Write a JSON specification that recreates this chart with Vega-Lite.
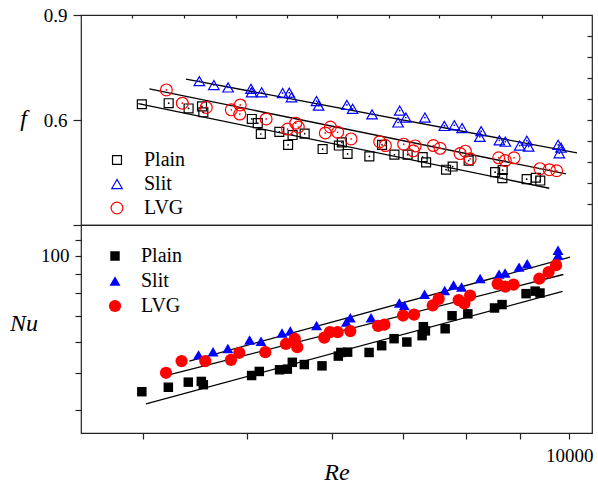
{
  "$schema": "https://vega.github.io/schema/vega-lite/v6.json",
  "padding": {"left": 8, "top": 5, "right": 5, "bottom": 5},
  "background": "white",
  "spacing": 0,
  "bounds": "flush",
  "config": {
    "font": "Liberation Serif",
    "view": {"stroke": "#222", "strokeWidth": 1.2},
    "axis": {
      "labelFont": "Liberation Serif", "labelFontSize": 19, "labelColor": "black",
      "titleFont": "Liberation Serif", "titleFontSize": 24, "titleFontStyle": "italic",
      "titleFontWeight": "normal", "titleColor": "black", "grid": false, "domain": false,
      "tickColor": "#222", "tickWidth": 1.2, "labelFlush": false, "labelOverlap": false
    },
    "legend": {
      "labelFont": "Liberation Serif", "labelFontSize": 20, "labelColor": "black",
      "rowPadding": 5, "padding": 0, "symbolStrokeWidth": 1.2
    }
  },
  "resolve": {
    "scale": {"color": "independent", "shape": "independent", "size": "independent"},
    "legend": {"color": "independent", "shape": "independent", "size": "independent"}
  },
  "datasets": {
    "fpts": [
      {"s": "Plain", "Re": 3989, "f": 0.645}, {"s": "Plain", "Re": 4226, "f": 0.648},
      {"s": "Plain", "Re": 4411, "f": 0.633}, {"s": "Plain", "Re": 4540, "f": 0.639},
      {"s": "Plain", "Re": 4553, "f": 0.622}, {"s": "Plain", "Re": 5053, "f": 0.603},
      {"s": "Plain", "Re": 5118, "f": 0.591}, {"s": "Plain", "Re": 5152, "f": 0.560},
      {"s": "Plain", "Re": 5361, "f": 0.566}, {"s": "Plain", "Re": 5463, "f": 0.529},
      {"s": "Plain", "Re": 5516, "f": 0.557}, {"s": "Plain", "Re": 5661, "f": 0.561},
      {"s": "Plain", "Re": 5884, "f": 0.517}, {"s": "Plain", "Re": 6093, "f": 0.527},
      {"s": "Plain", "Re": 6132, "f": 0.536}, {"s": "Plain", "Re": 6208, "f": 0.503},
      {"s": "Plain", "Re": 6506, "f": 0.496}, {"s": "Plain", "Re": 6686, "f": 0.529},
      {"s": "Plain", "Re": 6866, "f": 0.501}, {"s": "Plain", "Re": 7064, "f": 0.501},
      {"s": "Plain", "Re": 7296, "f": 0.494}, {"s": "Plain", "Re": 7350, "f": 0.479},
      {"s": "Plain", "Re": 7672, "f": 0.458}, {"s": "Plain", "Re": 7782, "f": 0.467},
      {"s": "Plain", "Re": 8054, "f": 0.484}, {"s": "Plain", "Re": 8526, "f": 0.451},
      {"s": "Plain", "Re": 8665, "f": 0.457}, {"s": "Plain", "Re": 8659, "f": 0.434},
      {"s": "Plain", "Re": 9124, "f": 0.431}, {"s": "Plain", "Re": 9306, "f": 0.435},
      {"s": "Plain", "Re": 9395, "f": 0.427},
      {"s": "Slit", "Re": 4514, "f": 0.711}, {"s": "Slit", "Re": 4657, "f": 0.700},
      {"s": "Slit", "Re": 4802, "f": 0.693}, {"s": "Slit", "Re": 5044, "f": 0.689},
      {"s": "Slit", "Re": 5051, "f": 0.679}, {"s": "Slit", "Re": 5161, "f": 0.679},
      {"s": "Slit", "Re": 5399, "f": 0.677}, {"s": "Slit", "Re": 5477, "f": 0.678},
      {"s": "Slit", "Re": 5503, "f": 0.665}, {"s": "Slit", "Re": 5807, "f": 0.654},
      {"s": "Slit", "Re": 5833, "f": 0.641}, {"s": "Slit", "Re": 6199, "f": 0.643},
      {"s": "Slit", "Re": 6276, "f": 0.632}, {"s": "Slit", "Re": 6544, "f": 0.616},
      {"s": "Slit", "Re": 6944, "f": 0.627}, {"s": "Slit", "Re": 7037, "f": 0.607},
      {"s": "Slit", "Re": 6920, "f": 0.593}, {"s": "Slit", "Re": 7331, "f": 0.607},
      {"s": "Slit", "Re": 7644, "f": 0.583}, {"s": "Slit", "Re": 7810, "f": 0.585},
      {"s": "Slit", "Re": 7941, "f": 0.577}, {"s": "Slit", "Re": 8274, "f": 0.568},
      {"s": "Slit", "Re": 8250, "f": 0.552}, {"s": "Slit", "Re": 8604, "f": 0.542},
      {"s": "Slit", "Re": 8715, "f": 0.538}, {"s": "Slit", "Re": 8988, "f": 0.527},
      {"s": "Slit", "Re": 9128, "f": 0.541}, {"s": "Slit", "Re": 9163, "f": 0.524},
      {"s": "Slit", "Re": 9762, "f": 0.529}, {"s": "Slit", "Re": 9823, "f": 0.521},
      {"s": "Slit", "Re": 9787, "f": 0.505},
      {"s": "LVG", "Re": 4205, "f": 0.686}, {"s": "LVG", "Re": 4352, "f": 0.648},
      {"s": "LVG", "Re": 4582, "f": 0.636}, {"s": "LVG", "Re": 4835, "f": 0.629},
      {"s": "LVG", "Re": 4929, "f": 0.643}, {"s": "LVG", "Re": 4924, "f": 0.617},
      {"s": "LVG", "Re": 5211, "f": 0.603}, {"s": "LVG", "Re": 5457, "f": 0.574},
      {"s": "LVG", "Re": 5554, "f": 0.591}, {"s": "LVG", "Re": 5584, "f": 0.580},
      {"s": "LVG", "Re": 5918, "f": 0.563}, {"s": "LVG", "Re": 5983, "f": 0.580},
      {"s": "LVG", "Re": 6077, "f": 0.565}, {"s": "LVG", "Re": 6255, "f": 0.546},
      {"s": "LVG", "Re": 6652, "f": 0.538}, {"s": "LVG", "Re": 6734, "f": 0.527},
      {"s": "LVG", "Re": 7004, "f": 0.531}, {"s": "LVG", "Re": 7179, "f": 0.526},
      {"s": "LVG", "Re": 7151, "f": 0.512}, {"s": "LVG", "Re": 7466, "f": 0.527},
      {"s": "LVG", "Re": 7574, "f": 0.519}, {"s": "LVG", "Re": 7907, "f": 0.504},
      {"s": "LVG", "Re": 7997, "f": 0.511}, {"s": "LVG", "Re": 8080, "f": 0.489},
      {"s": "LVG", "Re": 8591, "f": 0.492}, {"s": "LVG", "Re": 8715, "f": 0.484},
      {"s": "LVG", "Re": 8880, "f": 0.492}, {"s": "LVG", "Re": 9389, "f": 0.461},
      {"s": "LVG", "Re": 9579, "f": 0.458}, {"s": "LVG", "Re": 9732, "f": 0.455}
    ],
    "flines": [
      {"s": "Plain", "Re": 3959, "f": 0.647}, {"s": "Plain", "Re": 9579, "f": 0.405},
      {"s": "Slit", "Re": 4386, "f": 0.717}, {"s": "Slit", "Re": 10167, "f": 0.506},
      {"s": "LVG", "Re": 4054, "f": 0.689}, {"s": "LVG", "Re": 9929, "f": 0.446}
    ],
    "nupts": [
      {"s": "Plain", "Re": 3989, "Nu": 44.7}, {"s": "Plain", "Re": 4223, "Nu": 45.9},
      {"s": "Plain", "Re": 4408, "Nu": 47.3}, {"s": "Plain", "Re": 4533, "Nu": 47.5},
      {"s": "Plain", "Re": 4553, "Nu": 46.6}, {"s": "Plain", "Re": 5051, "Nu": 49.2},
      {"s": "Plain", "Re": 5135, "Nu": 50.4}, {"s": "Plain", "Re": 5364, "Nu": 50.9},
      {"s": "Plain", "Re": 5454, "Nu": 51.1}, {"s": "Plain", "Re": 5513, "Nu": 53.2},
      {"s": "Plain", "Re": 5657, "Nu": 52.5}, {"s": "Plain", "Re": 5876, "Nu": 52.1},
      {"s": "Plain", "Re": 6086, "Nu": 55.2}, {"s": "Plain", "Re": 6119, "Nu": 56.4},
      {"s": "Plain", "Re": 6209, "Nu": 56.5}, {"s": "Plain", "Re": 6502, "Nu": 56.4},
      {"s": "Plain", "Re": 6680, "Nu": 58.7}, {"s": "Plain", "Re": 6861, "Nu": 61.2},
      {"s": "Plain", "Re": 7052, "Nu": 60.0}, {"s": "Plain", "Re": 7287, "Nu": 62.3},
      {"s": "Plain", "Re": 7307, "Nu": 65.7}, {"s": "Plain", "Re": 7339, "Nu": 64.1},
      {"s": "Plain", "Re": 7657, "Nu": 64.9}, {"s": "Plain", "Re": 7772, "Nu": 70.1},
      {"s": "Plain", "Re": 8040, "Nu": 70.9}, {"s": "Plain", "Re": 8515, "Nu": 73.4},
      {"s": "Plain", "Re": 8654, "Nu": 74.9}, {"s": "Plain", "Re": 9112, "Nu": 79.9},
      {"s": "Plain", "Re": 9292, "Nu": 81.1}, {"s": "Plain", "Re": 9389, "Nu": 80.2},
      {"s": "Slit", "Re": 4506, "Nu": 55.6}, {"s": "Slit", "Re": 4649, "Nu": 56.6},
      {"s": "Slit", "Re": 4799, "Nu": 57.7}, {"s": "Slit", "Re": 5029, "Nu": 60.7},
      {"s": "Slit", "Re": 5154, "Nu": 60.3}, {"s": "Slit", "Re": 5392, "Nu": 63.3},
      {"s": "Slit", "Re": 5489, "Nu": 64.0}, {"s": "Slit", "Re": 5808, "Nu": 66.2},
      {"s": "Slit", "Re": 6192, "Nu": 67.5}, {"s": "Slit", "Re": 6245, "Nu": 69.3},
      {"s": "Slit", "Re": 6530, "Nu": 69.3}, {"s": "Slit", "Re": 6939, "Nu": 75.6},
      {"s": "Slit", "Re": 7014, "Nu": 74.5}, {"s": "Slit", "Re": 7326, "Nu": 79.6},
      {"s": "Slit", "Re": 7649, "Nu": 81.4}, {"s": "Slit", "Re": 7797, "Nu": 84.1},
      {"s": "Slit", "Re": 7932, "Nu": 83.1}, {"s": "Slit", "Re": 8256, "Nu": 87.4},
      {"s": "Slit", "Re": 8598, "Nu": 89.7}, {"s": "Slit", "Re": 8710, "Nu": 90.3},
      {"s": "Slit", "Re": 8976, "Nu": 93.5}, {"s": "Slit", "Re": 9134, "Nu": 95.4},
      {"s": "Slit", "Re": 9760, "Nu": 103.4}, {"s": "Slit", "Re": 9762, "Nu": 100.3},
      {"s": "LVG", "Re": 4202, "Nu": 50.0}, {"s": "LVG", "Re": 4345, "Nu": 53.6},
      {"s": "LVG", "Re": 4572, "Nu": 53.6}, {"s": "LVG", "Re": 4832, "Nu": 54.0},
      {"s": "LVG", "Re": 4919, "Nu": 56.3}, {"s": "LVG", "Re": 5202, "Nu": 56.5},
      {"s": "LVG", "Re": 5438, "Nu": 59.3}, {"s": "LVG", "Re": 5542, "Nu": 61.1},
      {"s": "LVG", "Re": 5572, "Nu": 58.2}, {"s": "LVG", "Re": 5905, "Nu": 61.6},
      {"s": "LVG", "Re": 5976, "Nu": 63.6}, {"s": "LVG", "Re": 6077, "Nu": 63.6},
      {"s": "LVG", "Re": 6245, "Nu": 64.0}, {"s": "LVG", "Re": 6629, "Nu": 66.0},
      {"s": "LVG", "Re": 6719, "Nu": 66.5}, {"s": "LVG", "Re": 6995, "Nu": 70.2},
      {"s": "LVG", "Re": 7162, "Nu": 70.6}, {"s": "LVG", "Re": 7455, "Nu": 74.5},
      {"s": "LVG", "Re": 7551, "Nu": 77.5}, {"s": "LVG", "Re": 7883, "Nu": 76.9},
      {"s": "LVG", "Re": 7980, "Nu": 75.4}, {"s": "LVG", "Re": 8079, "Nu": 79.0},
      {"s": "LVG", "Re": 8572, "Nu": 84.7}, {"s": "LVG", "Re": 8715, "Nu": 83.3},
      {"s": "LVG", "Re": 8870, "Nu": 84.3}, {"s": "LVG", "Re": 9375, "Nu": 87.3},
      {"s": "LVG", "Re": 9565, "Nu": 90.8}, {"s": "LVG", "Re": 9718, "Nu": 94.6}
    ],
    "nulines": [
      {"s": "Plain", "Re": 4025, "Nu": 41.6}, {"s": "Plain", "Re": 9857, "Nu": 81.0},
      {"s": "Slit", "Re": 4418, "Nu": 53.6}, {"s": "Slit", "Re": 10015, "Nu": 99.2},
      {"s": "LVG", "Re": 4166, "Nu": 48.9}, {"s": "LVG", "Re": 9872, "Nu": 89.5}
    ]
  },
  "vconcat": [
    {
      "width": 511,
      "height": 210,
      "resolve": {"axis": {"y": "independent"}},
      "layer": [
        {
          "data": {"name": "flines"},
          "mark": {"type": "line", "color": "black", "strokeWidth": 1.3},
          "encoding": {
            "x": {"field": "Re", "type": "quantitative",
              "scale": {"type": "log", "domain": [3500, 10500], "nice": false},
              "axis": {"orient": "top", "values": [3908, 4370, 4887, 5454, 6073, 6792, 7561, 8457, 9436], "labels": false, "tickSize": -3, "title": null}},
            "y": {"field": "f", "type": "quantitative",
              "scale": {"domain": [0.3, 0.9], "nice": false, "zero": false},
              "axis": {"orient": "left", "values": [0.3, 0.6, 0.9], "labelExpr": "datum.value < 0.4 ? '' : format(datum.value, '.1f')",
                "tickSize": 8, "labelPadding": 6, "title": "f", "titleAngle": 0, "titleAlign": "center",
                "titleBaseline": "alphabetic", "titleX": -58, "titleY": 110}},
            "detail": {"field": "s", "type": "nominal"}
          }
        },
        {
          "data": {"name": "fpts"},
          "mark": {"type": "point", "filled": false, "strokeWidth": 1.2, "opacity": 1},
          "encoding": {
            "x": {"field": "Re", "type": "quantitative", "scale": {"type": "log", "domain": [3500, 10500], "nice": false},
              "axis": {"orient": "top", "values": [3908, 4370, 4887, 5454, 6073, 6792, 7561, 8457, 9436], "labels": false, "tickSize": -3, "title": null}},
            "y": {"field": "f", "type": "quantitative", "scale": {"domain": [0.3, 0.9], "nice": false, "zero": false},
              "axis": {"orient": "right", "values": [0.36, 0.42, 0.48, 0.54, 0.6, 0.66, 0.72, 0.78, 0.84], "labels": false, "tickSize": -5, "title": null}},
            "color": {"field": "s", "type": "nominal",
              "scale": {"domain": ["Plain", "Slit", "LVG"], "range": ["black", "blue", "red"]},
              "legend": {"orient": "none", "legendX": 26, "legendY": 135, "title": null, "labelOffset": 17, "rowPadding": 4}},
            "shape": {"field": "s", "type": "nominal",
              "scale": {"domain": ["Plain", "Slit", "LVG"], "range": ["square", "triangle-up", "circle"]}},
            "size": {"field": "s", "type": "nominal",
              "scale": {"domain": ["Plain", "Slit", "LVG"], "range": [80, 140, 115]}}
          }
        },
        {
          "data": {"name": "fpts"},
          "transform": [{"filter": "datum.s == 'Plain'"}],
          "mark": {"type": "point", "filled": true, "size": 3, "opacity": 1, "color": "black"},
          "encoding": {
            "x": {"field": "Re", "type": "quantitative", "scale": {"type": "log", "domain": [3500, 10500], "nice": false},
              "axis": {"orient": "top", "values": [3908, 4370, 4887, 5454, 6073, 6792, 7561, 8457, 9436], "labels": false, "tickSize": -3, "title": null}},
            "y": {"field": "f", "type": "quantitative", "scale": {"domain": [0.3, 0.9], "nice": false, "zero": false}, "axis": null}
          }
        },
        {
          "data": {"name": "fpts"},
          "transform": [{"filter": "datum.s == 'Slit'"}],
          "mark": {"type": "point", "filled": true, "size": 3, "opacity": 1, "color": "blue"},
          "encoding": {
            "x": {"field": "Re", "type": "quantitative", "scale": {"type": "log", "domain": [3500, 10500], "nice": false},
              "axis": {"orient": "top", "values": [3908, 4370, 4887, 5454, 6073, 6792, 7561, 8457, 9436], "labels": false, "tickSize": -3, "title": null}},
            "y": {"field": "f", "type": "quantitative", "scale": {"domain": [0.3, 0.9], "nice": false, "zero": false}, "axis": null}
          }
        },
        {
          "data": {"name": "fpts"},
          "transform": [{"filter": "datum.s == 'LVG'"}],
          "mark": {"type": "point", "filled": true, "size": 3, "opacity": 1, "color": "red"},
          "encoding": {
            "x": {"field": "Re", "type": "quantitative", "scale": {"type": "log", "domain": [3500, 10500], "nice": false},
              "axis": {"orient": "top", "values": [3908, 4370, 4887, 5454, 6073, 6792, 7561, 8457, 9436], "labels": false, "tickSize": -3, "title": null}},
            "y": {"field": "f", "type": "quantitative", "scale": {"domain": [0.3, 0.9], "nice": false, "zero": false}, "axis": null}
          }
        }
      ]
    },
    {
      "width": 511,
      "height": 208,
      "layer": [
        {
          "data": {"name": "nulines"},
          "mark": {"type": "line", "color": "black", "strokeWidth": 1.3},
          "encoding": {
            "x": {"field": "Re", "type": "quantitative",
              "scale": {"type": "log", "domain": [3500, 10500], "nice": false},
              "axis": {"orient": "bottom", "values": [4000, 5000, 6000, 7000, 8000, 9000, 10000],
                "labelExpr": "datum.value == 10000 ? '10000' : ''",
                "tickSize": 6, "labelPadding": 7, "title": "Re", "titleAlign": "center", "titleBaseline": "alphabetic",
                "titleX": 255.5, "titleY": 46}},
            "y": {"field": "Nu", "type": "quantitative",
              "scale": {"type": "log", "domain": [35, 120], "nice": false},
              "axis": {"orient": "left", "values": [40, 50, 60, 70, 80, 90, 100, 110],
                "labelExpr": "datum.value == 100 ? '100' : ''",
                "tickSize": 6, "labelPadding": 6, "title": "Nu", "titleAngle": 0, "titleAlign": "center",
                "titleBaseline": "alphabetic", "titleX": -57.5, "titleY": 105}},
            "detail": {"field": "s", "type": "nominal"}
          }
        },
        {
          "data": {"name": "nupts"},
          "mark": {"type": "point", "filled": true, "opacity": 1},
          "encoding": {
            "x": {"field": "Re", "type": "quantitative", "scale": {"type": "log", "domain": [3500, 10500], "nice": false},
              "axis": {"orient": "bottom", "values": [4000, 5000, 6000, 7000, 8000, 9000, 10000],
                "labelExpr": "datum.value == 10000 ? '10000' : ''",
                "tickSize": 6, "labelPadding": 7, "title": "Re", "titleAlign": "center", "titleBaseline": "alphabetic",
                "titleX": 255.5, "titleY": 46}},
            "y": {"field": "Nu", "type": "quantitative", "scale": {"type": "log", "domain": [35, 120], "nice": false},
              "axis": {"orient": "left", "values": [40, 50, 60, 70, 80, 90, 100, 110],
                "labelExpr": "datum.value == 100 ? '100' : ''",
                "tickSize": 6, "labelPadding": 6, "title": "Nu", "titleAngle": 0, "titleAlign": "center",
                "titleBaseline": "alphabetic", "titleX": -57.5, "titleY": 105}},
            "color": {"field": "s", "type": "nominal",
              "scale": {"domain": ["Plain", "Slit", "LVG"], "range": ["black", "blue", "red"]},
              "legend": {"orient": "none", "legendX": 24, "legendY": 21, "title": null, "labelOffset": 16}},
            "shape": {"field": "s", "type": "nominal",
              "scale": {"domain": ["Plain", "Slit", "LVG"], "range": ["square", "triangle-up", "circle"]}},
            "size": {"field": "s", "type": "nominal",
              "scale": {"domain": ["Plain", "Slit", "LVG"], "range": [90, 150, 130]}}
          }
        }
      ]
    }
  ]
}
